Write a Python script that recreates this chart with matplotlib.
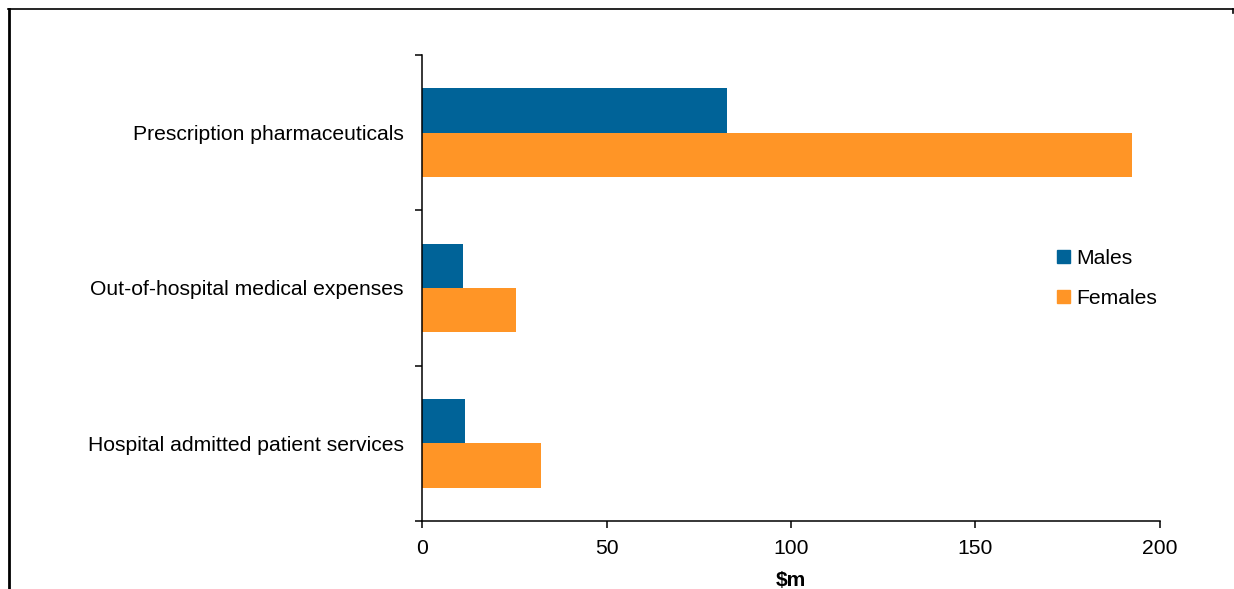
import matplotlib
matplotlib.use('Agg')
import matplotlib.pyplot as plt
from matplotlib.lines import Line2D
from matplotlib.patches import Patch
import numpy as np

plt.rcParams['font.family'] = ['Liberation Sans', 'DejaVu Sans']

# data, bottom to top
categories = ["Hospital admitted patient services",
              "Out-of-hospital medical expenses",
              "Prescription pharmaceuticals"]
males = [11.7, 11.1, 82.6]
females = [32.2, 25.5, 192.4]

blue = "#006398"
orange = "#FF9526"
fs = 15.2

fig = plt.figure(figsize=(12.34, 5.89), dpi=100)
ax = fig.add_axes([0.342, 0.1155, 0.598, 0.7911])

centers = np.arange(len(categories)) + 0.5
h = 0.286
ax.barh(centers + h / 2, males, height=h, color=blue, label="Males")
ax.barh(centers - h / 2, females, height=h, color=orange, label="Females")

ax.set_xlim(0, 200)
ax.set_ylim(0, 3)
ax.set_xticks([0, 50, 100, 150, 200])
ax.set_yticks([0, 1, 2, 3])
ax.set_yticklabels([])
ax.set_yticks(centers, minor=True)
ax.set_yticklabels(categories, minor=True)
ax.tick_params(axis='y', which='minor', length=0, pad=13, labelsize=fs)
ax.tick_params(axis='y', which='major', direction='out', length=5, width=1.1)
ax.tick_params(axis='x', direction='out', length=5, width=1.1, pad=8, labelsize=fs)

for s in ['top', 'right']:
    ax.spines[s].set_visible(False)
for s in ['left', 'bottom']:
    ax.spines[s].set_linewidth(1.1)

ax.set_xlabel("$m", fontsize=fs, fontweight='bold', labelpad=9)

handles = [Patch(color=blue, label="Males"), Patch(color=orange, label="Females")]
ax.legend(handles=handles, frameon=False, fontsize=fs, loc='center left',
          bbox_to_anchor=(0.835, 0.52), handlelength=0.6, handleheight=0.6,
          handletextpad=0.3, labelspacing=1.0)

# outer frame fragments
fig.add_artist(Line2D([8 / 1234, 1233 / 1234], [1 - 9 / 589, 1 - 9 / 589],
                      color='black', lw=1.2, transform=fig.transFigure))
fig.add_artist(Line2D([8.5 / 1234, 8.5 / 1234], [1 - 9 / 589, 0],
                      color='black', lw=2, transform=fig.transFigure))
fig.add_artist(Line2D([1233 / 1234, 1233 / 1234], [1 - 9 / 589, 1 - 13 / 589],
                      color='black', lw=1.2, transform=fig.transFigure))

fig.savefig("out.png", dpi=100)
